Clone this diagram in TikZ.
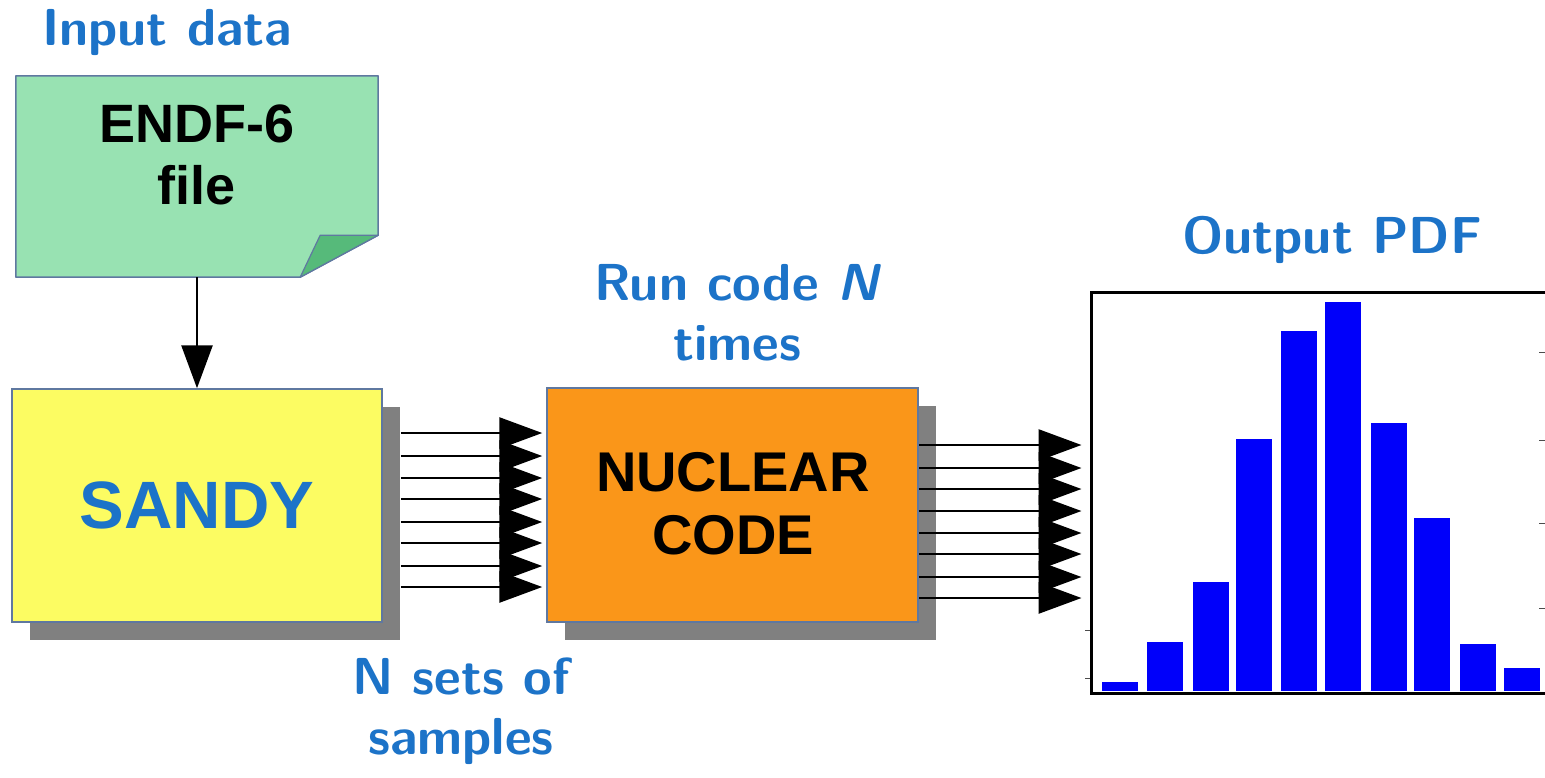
\documentclass[tikz,border=0pt]{standalone}
\usepackage{fontspec}
\newfontfamily\hv{Liberation Sans}
\usetikzlibrary{arrows.meta,shadows}
\definecolor{titleblue}{RGB}{28,115,200}
\definecolor{docgreen}{RGB}{152,226,178}
\definecolor{foldgreen}{RGB}{86,186,122}
\definecolor{boxborder}{RGB}{95,120,160}
\definecolor{sandyyellow}{RGB}{252,252,98}
\definecolor{codeorange}{RGB}{250,150,25}
\definecolor{shadowgray}{RGB}{128,128,128}
\definecolor{barblue}{RGB}{0,0,250}
\tikzset{
  title/.style={text=titleblue, font=\sffamily\bfseries\fontsize{52}{60}\selectfont, align=center, inner sep=0pt},
  boxtext/.style n args={2}{font=\hv\bfseries\fontsize{#1}{#2}\selectfont, align=center, inner sep=0pt},
  mainbox/.style={draw=boxborder, line width=1.5pt, minimum width=370pt, minimum height=233pt, inner sep=0pt,
    drop shadow={shadow xshift=18pt, shadow yshift=-18pt, fill=shadowgray, opacity=1}},
  flow/.style={line width=2.7pt, -{Triangle[length=43pt,width=31pt]}},
  bar/.style={fill=barblue}
}
\begin{document}
\begin{tikzpicture}[x=1pt,y=-1pt]
\clip (0,0) rectangle (1545,777);
\useasboundingbox (0,0) rectangle (1545,777);
\fill[white] (0,0) rectangle (1545,777);

% titles
\node[title, anchor=base] (tin) at (167,45) {Input data};
\node[title] (trun) at (737,313) {Run code {\itshape N}\\times};
\node[title] (tsets) at (461,711) {N sets of\\samples};
\node[title, anchor=base] (tout) at (1332,253) {Output PDF};

% ENDF-6 document
\node[minimum width=362pt, minimum height=201pt, inner sep=0pt] (doc) at (197,176.5) {};
\filldraw[fill=docgreen, draw=boxborder, line width=1.5pt, line join=round]
  (doc.north west) -- (doc.north east) -- ([yshift=42pt]doc.south east)
  -- ([xshift=-78pt]doc.south east) -- (doc.south west) -- cycle;
\filldraw[fill=foldgreen, draw=boxborder, line width=1.2pt, line join=round]
  ([yshift=42pt]doc.south east) -- ([xshift=-58pt,yshift=42pt]doc.south east)
  -- ([xshift=-78pt]doc.south east) -- cycle;
\node[boxtext={54}{62}] (endftext) at (197,155) {ENDF-6\\file};

% SANDY
\node[mainbox, fill=sandyyellow] (sandy) at (197,505.5) {};
\node[boxtext={67}{80}, text=titleblue, anchor=base] (sandytext) at (sandy.center |- 0,528) {SANDY};

% nuclear code
\node[mainbox, fill=codeorange, minimum width=371pt, minimum height=234pt] (code) at (732.5,505) {};
\node[boxtext={56}{63}] (codetext) at (733,503.5) {NUCLEAR\\CODE};

% histogram frame
\node[draw, line width=3pt, minimum width=540pt, minimum height=401pt, inner sep=0pt] (pdf) at (1361,492.5) {};
\foreach \xl/\top in {1102/682,1147/642,1193/582,1236/439,1281/331,1325/302,1371/423,1414/518,1460/644,1504/668}{
  \fill[bar] (\xl,691) rectangle ({\xl+36},\top);
}
\foreach \yt in {630,678}{ \draw[line width=1pt, black!70] (1085,\yt) -- (1090,\yt); }
\foreach \yt in {352,440,523,608}{ \draw[line width=1pt, black!70] (1539,\yt) -- (1545,\yt); }

% connectors
\draw[flow] (doc.south) -- (sandy.north);
\coordinate (sandyout) at ([xshift=18pt]sandy.east);
\foreach \yy in {433,456,478,499,522,543,566,587}{
  \draw[flow, shorten >=4pt] (sandyout |- 0,\yy) -- (code.west |- 0,\yy);
}
\foreach \yy in {445,468,489,511,533,554,577,598}{
  \draw[flow, shorten >=8pt] (code.east |- 0,\yy) -- (pdf.west |- 0,\yy);
}
\end{tikzpicture}
\end{document}
